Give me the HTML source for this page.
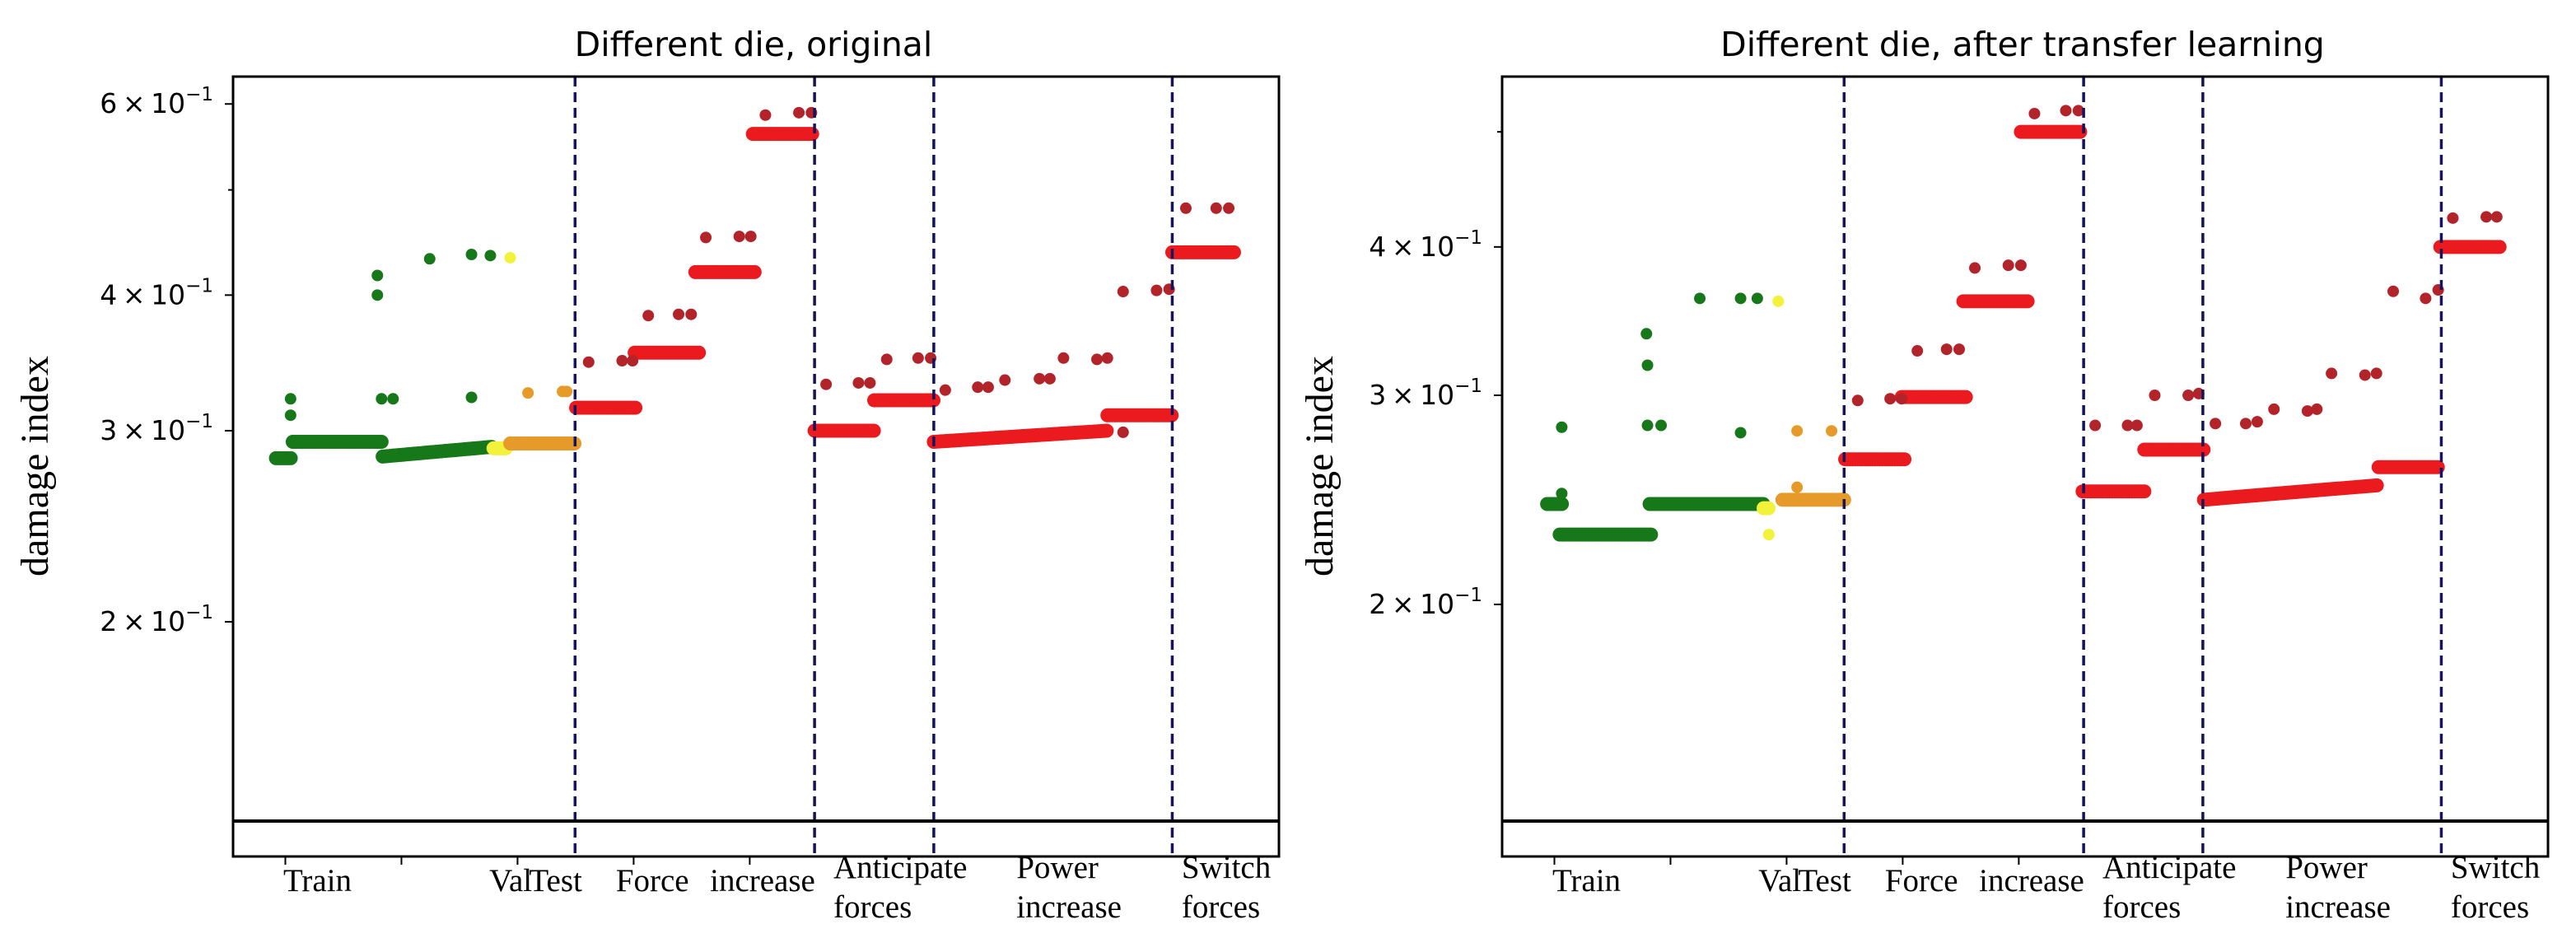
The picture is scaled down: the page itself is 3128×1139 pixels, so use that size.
<!DOCTYPE html>
<html><head><meta charset="utf-8"><style>
html,body{margin:0;padding:0;background:#fff}
svg{display:block}
.t{font-family:"DejaVu Sans","Liberation Sans",sans-serif}
.s{font-family:"Liberation Serif",serif}
</style></head><body>
<svg id="chart" width="3128" height="1139" viewBox="0 0 3128 1139" xmlns="http://www.w3.org/2000/svg"></svg>
<script>
// ---- Data (x = sample index 0..1000, value = damage index) ----
// segments: [startIdx, endIdx, startValue, endValue, colorKey]
const leftSegments = [
  [41,57,0.283,0.283,'g'],[57,143,0.293,0.293,'g'],[143,249,0.284,0.290,'g'],
  [249,261,0.289,0.289,'y'],[265,328,0.292,0.292,'o'],
  [328,387,0.315,0.315,'r'],[384,446,0.354,0.354,'r'],[442,501,0.420,0.420,'r'],
  [497,556,0.563,0.563,'r'],[556,615,0.300,0.300,'r'],[613,670,0.320,0.320,'r'],
  [670,836,0.293,0.300,'r'],[836,898,0.310,0.310,'r'],[898,958,0.438,0.438,'r']
];
// outliers: [idx, value, colorKey]
const leftOutliers = [
  [55,0.321,'g'],[55,0.310,'g'],[138,0.417,'g'],[138,0.400,'g'],[142,0.321,'g'],[153,0.321,'g'],
  [188,0.432,'g'],[228,0.436,'g'],[246,0.435,'g'],[228,0.322,'g'],
  [265,0.433,'y'],[282,0.325,'o'],[315,0.326,'o'],[319,0.326,'o'],
  [340,0.347,'d'],[372,0.348,'d'],[382,0.348,'d'],[397,0.383,'d'],[426,0.384,'d'],[438,0.384,'d'],
  [452,0.452,'d'],[484,0.453,'d'],[495,0.453,'d'],[509,0.586,'d'],[541,0.589,'d'],[553,0.589,'d'],
  [567,0.331,'d'],[598,0.332,'d'],[609,0.332,'d'],[625,0.349,'d'],[655,0.350,'d'],[667,0.350,'d'],
  [681,0.327,'d'],[712,0.329,'d'],[722,0.329,'d'],[738,0.334,'d'],[771,0.335,'d'],[781,0.335,'d'],
  [794,0.350,'d'],[826,0.349,'d'],[836,0.350,'d'],[851,0.299,'d'],[851,0.403,'d'],[883,0.404,'d'],[895,0.405,'d'],
  [911,0.481,'d'],[940,0.481,'d'],[952,0.481,'d']
];
const rightSegments = [
  [43,59,0.243,0.243,'g'],[55,143,0.229,0.229,'g'],[141,250,0.243,0.243,'g'],
  [250,256,0.241,0.241,'y'],[268,328,0.245,0.245,'o'],
  [328,387,0.265,0.265,'r'],[382,445,0.299,0.299,'r'],[441,504,0.360,0.360,'r'],
  [496,555,0.500,0.500,'r'],[555,616,0.249,0.249,'r'],[614,671,0.270,0.270,'r'],
  [671,838,0.245,0.252,'r'],[838,897,0.261,0.261,'r'],[897,956,0.400,0.400,'r']
];
const rightOutliers = [
  [57,0.282,'g'],[57,0.248,'g'],[138,0.338,'g'],[139,0.318,'g'],[139,0.283,'g'],[152,0.283,'g'],
  [189,0.362,'g'],[228,0.362,'g'],[244,0.362,'g'],[228,0.279,'g'],
  [255,0.229,'y'],[264,0.360,'y'],[282,0.280,'o'],[315,0.280,'o'],[282,0.251,'o'],
  [340,0.297,'d'],[371,0.298,'d'],[382,0.298,'d'],[397,0.327,'d'],[425,0.328,'d'],[437,0.328,'d'],
  [452,0.384,'d'],[484,0.386,'d'],[496,0.386,'d'],[509,0.518,'d'],[539,0.521,'d'],[551,0.521,'d'],
  [567,0.283,'d'],[598,0.283,'d'],[607,0.283,'d'],[624,0.300,'d'],[656,0.300,'d'],[666,0.301,'d'],
  [682,0.284,'d'],[711,0.284,'d'],[722,0.285,'d'],[738,0.292,'d'],[770,0.291,'d'],[779,0.292,'d'],
  [793,0.313,'d'],[825,0.312,'d'],[836,0.313,'d'],[852,0.367,'d'],[883,0.362,'d'],[895,0.368,'d'],
  [909,0.423,'d'],[941,0.424,'d'],[951,0.424,'d']
];
const dividerIdx = [327,556,670,898];
const leftTickValues = [0.6,0.4,0.3,0.2];
const rightTickValues = [0.4,0.3,0.2];
const xLabels = [
  ['Train',48,1],['Val',245,0],['Test',283,0],['Force',366,0],['increase',456,0],
  ['Anticipate\nforces',574,0],['Power\nincrease',749,0],['Switch\nforces',907,0]
];

const NS='http://www.w3.org/2000/svg';
const svg=document.getElementById('chart');
const COLORS={g:'#17781a',y:'#f2f23a',o:'#e69a2a',r:'#ea1a1e',d:'#b3232a'};
function el(tag,attrs,parent){const e=document.createElementNS(NS,tag);for(const k in attrs)e.setAttribute(k,attrs[k]);(parent||svg).appendChild(e);return e;}

function panel(cfg){
  const g=el('g',{});
  
  
  const L=cfg.left,R=cfg.right,T=93,B=1040;
  const xs=i=>L+i*(R-L)/1000;
  const ys=v=>cfg.y0-cfg.k*Math.log10(v/0.3);
  const title=el('text',{x:(cfg.titleX),y:68,'text-anchor':'middle','font-size':41,class:'t'},g);
  title.textContent=cfg.title;
  
  
  cfg.segs.forEach(s=>{
    const x0=xs(s[0]),x1=xs(s[1]);
    for(let x=x0;x<=x1;x+=3){
      const f=(x-x0)/Math.max(1,x1-x0);
      const v=s[2]+(s[3]-s[2])*f;
      const c=el('circle',{cx:x,cy:ys(v),r:8.5,fill:COLORS[s[4]]},g);
      
      
    }
  });
  cfg.outs.forEach(o=>{
    const c=el('circle',{cx:xs(o[0]),cy:ys(o[1]),r:7,fill:COLORS[o[2]]},g);
    
    
  });
  dividerIdx.forEach(d=>{
    const l=el('line',{x1:xs(d),x2:xs(d),y1:T,y2:B,stroke:'#14145e','stroke-width':3.5,'stroke-dasharray':'12 7'},g);
    
    
  });
  const bl=el('line',{x1:L,x2:R,y1:997,y2:997,stroke:'#000','stroke-width':4},g);
  
  
  const fr=el('rect',{x:L,y:T,width:R-L,height:B-T,fill:'none',stroke:'#000','stroke-width':3},g);
  
  
  cfg.ticks.forEach(v=>{
    const y=ys(v);
    el('line',{x1:L-10,x2:L,y1:y,y2:y,stroke:'#000','stroke-width':2},g);
    const t=el('text',{x:L-24,y:y+11,'text-anchor':'end','font-size':33,class:'t'},g);
    
    
    t.innerHTML=Math.round(v*10)+'\u2009\u00d7\u200910<tspan dy="-15" font-size="23">\u22121</tspan>';
  });
  const my=ys(0.5);
  el('line',{x1:L-6,x2:L,y1:my,y2:my,stroke:'#000','stroke-width':2},g);
  const yt=el('text',{x:0,y:0,'text-anchor':'middle','font-size':48,class:'s',transform:`translate(${cfg.ylabX},566) rotate(-90)`},g);
  yt.textContent='damage  index';
  
  
  [50,161,272,383,494].forEach(i=>{el('line',{x1:xs(i),x2:xs(i),y1:B,y2:B+10,stroke:'#000','stroke-width':2},g);});
  xLabels.forEach(lb=>{
    const lines=lb[0].split('\n');
    const t=el('text',{x:xs(lb[1]),y:lines.length>1?1066:1082,'font-size':39,class:'s'},g);
    
    
    lines.forEach((s,k)=>{const sp=el('tspan',{x:xs(lb[1]),dy:k?48:0},t);sp.textContent=s;});
  });
}
panel({name:'panel-original',left:283,right:1553,y0:523,k:1318,segs:leftSegments,outs:leftOutliers,ticks:leftTickValues,title:'Different die, original',titleX:915,ylabX:58});
panel({name:'panel-transfer',left:1824,right:3094,y0:480,k:1442,segs:rightSegments,outs:rightOutliers,ticks:rightTickValues,title:'Different die, after transfer learning',titleX:2456,ylabX:1618});
</script>
</body></html>
